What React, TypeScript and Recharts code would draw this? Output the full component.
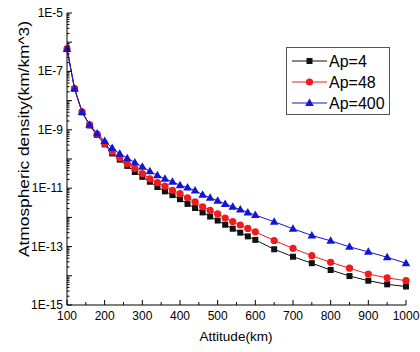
import React from "react";
import { LineChart, Line, XAxis, YAxis, Legend, Label } from "recharts";

const altitude = [
  100, 120, 140, 160, 180, 200, 220, 240, 260, 280, 300, 320, 340, 360, 380, 400, 420,
  440, 460, 480, 500, 520, 540, 560, 580, 600, 650, 700, 750, 800, 850, 900, 950, 1000,
];

const ap4 = [
  5.9e-7, 2.5e-8, 4.0e-9, 1.41e-9, 6.6e-10, 3.16e-10, 1.55e-10, 9.5e-11, 5.8e-11, 3.6e-11,
  2.45e-11, 1.66e-11, 1.1e-11, 7.8e-12, 5.8e-12, 4.2e-12, 2.9e-12, 2.1e-12, 1.48e-12,
  1.07e-12, 7.8e-13, 5.6e-13, 4.1e-13, 3.0e-13, 2.24e-13, 1.7e-13, 8.1e-14, 4.5e-14,
  2.7e-14, 1.58e-14, 9.8e-15, 6.8e-15, 5.1e-15, 4.3e-15,
];

const ap48 = [
  5.9e-7, 2.6e-8, 4.1e-9, 1.48e-9, 7.1e-10, 3.4e-10, 1.82e-10, 1.1e-10, 6.9e-11, 4.7e-11,
  3.16e-11, 2.1e-11, 1.55e-11, 1.17e-11, 8.5e-12, 6.5e-12, 4.7e-12, 3.4e-12, 2.3e-12,
  1.74e-12, 1.32e-12, 9.5e-13, 7.2e-13, 5.5e-13, 4.2e-13, 3.2e-13, 1.62e-13, 8.7e-14,
  4.9e-14, 2.9e-14, 1.82e-14, 1.15e-14, 8.5e-15, 6.8e-15,
];

const ap400 = [
  5.9e-7, 2.6e-8, 4.1e-9, 1.5e-9, 7.4e-10, 4.1e-10, 2.4e-10, 1.5e-10, 1.07e-10, 7.6e-11,
  5.4e-11, 3.8e-11, 2.75e-11, 2.1e-11, 1.66e-11, 1.26e-11, 1.05e-11, 8.3e-12, 6.0e-12,
  4.7e-12, 3.7e-12, 2.9e-12, 2.3e-12, 1.86e-12, 1.48e-12, 1.2e-12, 7.1e-13, 4.1e-13,
  2.4e-13, 1.58e-13, 9.8e-14, 6.6e-14, 4.3e-14, 2.7e-14,
];

const xTicks = [100, 150, 200, 250, 300, 350, 400, 450, 500, 550, 600, 650, 700, 750, 800, 850, 900, 950, 1000];
const yLabelTicks = [1e-5, 1e-7, 1e-9, 1e-11, 1e-13, 1e-15];
const yTickText = ["1E-5", "1E-7", "1E-9", "1E-11", "1E-13", "1E-15"];

const data = altitude.map((alt, i) => ({ alt, ap4: ap4[i], ap48: ap48[i], ap400: ap400[i] }));

// log minor ticks: 1..9 x 10^k
const yTicks: number[] = [];
for (let k = -15; k < -5; k++) {
  for (let m = 1; m <= 9; m++) yTicks.push(m * Math.pow(10, k));
}
yTicks.push(1e-5);

const FONT = "'Liberation Sans', Arial, sans-serif";
const BLACK = "#111111";
const RED = "#ee1c1c";
const BLUE = "#1414d6";

const isDecade = (v: number) => {
  const e = Math.round(Math.log10(v));
  return Math.abs(v - Math.pow(10, e)) / v < 1e-6;
};

const YTick = (side: "left" | "right") => (props: any) => {
  const { x, y, payload } = props;
  const v = payload.value;
  const len = isDecade(v) ? 5 : 2.5;
  const dir = side === "left" ? 1 : -1;
  const idx = yLabelTicks.findIndex((t) => Math.abs(t - v) / t < 1e-6);
  return (
    <g>
      <line x1={x} x2={x + dir * len} y1={y} y2={y} stroke="#000" strokeWidth={1} />
      {side === "left" && idx >= 0 && (
        <text x={x - 4} y={y} dy={4} textAnchor="end" fontSize={12} fontFamily={FONT} fill="#000">
          {yTickText[idx]}
        </text>
      )}
    </g>
  );
};

const XTick = (side: "bottom" | "top") => (props: any) => {
  const { x, y, payload } = props;
  const v = payload.value;
  const len = v % 100 === 0 ? 5 : 3;
  const dir = side === "bottom" ? -1 : 1;
  return (
    <g>
      <line x1={x} x2={x} y1={y} y2={y + dir * len} stroke="#000" strokeWidth={1} />
      {side === "bottom" && v % 100 === 0 && (
        <text x={x} y={y + 15} textAnchor="middle" fontSize={12} fontFamily={FONT} fill="#000">
          {v}
        </text>
      )}
    </g>
  );
};

const Square = (props: any) => {
  const { cx, cy, index } = props;
  return <rect key={`s${index}`} x={cx - 3} y={cy - 3} width={6} height={6} fill={BLACK} />;
};
const Circle = (props: any) => {
  const { cx, cy, index } = props;
  return <circle key={`c${index}`} cx={cx} cy={cy} r={3.6} fill={RED} />;
};
const Triangle = (props: any) => {
  const { cx, cy, index } = props;
  return (
    <path key={`t${index}`} d={`M${cx},${cy - 4.5} L${cx + 4.3},${cy + 3} L${cx - 4.3},${cy + 3} Z`} fill={BLUE} />
  );
};

const legendItems = [
  { name: "Ap=4", color: BLACK, shape: "square" },
  { name: "Ap=48", color: RED, shape: "circle" },
  { name: "Ap=400", color: BLUE, shape: "triangle" },
];

const LegendBox = () => (
  <svg width={104} height={68} style={{ display: "block" }}>
    <rect x={0.5} y={0.5} width={103} height={67} fill="#fff" stroke="#555" />
    {legendItems.map((it, i) => {
      const y = 14 + i * 21;
      return (
        <g key={it.name}>
          <line x1={6} x2={41} y1={y} y2={y} stroke={it.color} strokeWidth={1} />
          {it.shape === "square" && <rect x={20.5} y={y - 3} width={6} height={6} fill={it.color} />}
          {it.shape === "circle" && <circle cx={23.5} cy={y} r={3.6} fill={it.color} />}
          {it.shape === "triangle" && (
            <path d={`M23.5,${y - 4.5} L27.8,${y + 3} L19.2,${y + 3} Z`} fill={it.color} />
          )}
          <text x={43} y={y + 6} fontSize={16} fontFamily={FONT} fill="#000">
            {it.name}
          </text>
        </g>
      );
    })}
  </svg>
);

export default function App() {
  return (
    <div style={{ position: "absolute", left: 0, top: 0, width: 420, height: 352, background: "#fff", fontFamily: FONT }}>
      <LineChart width={420} height={352} data={data} margin={{ top: 13, right: 14, bottom: 0, left: 0 }}>
        <XAxis
          xAxisId="bottom"
          dataKey="alt"
          type="number"
          domain={[100, 1000]}
          ticks={xTicks}
          interval={0}
          height={47}
          tickSize={0}
          tickMargin={0}
          tickLine={false}
          stroke="#000"
          tick={XTick("bottom")}
        >
          <Label
            content={() => (
              <text x={236} y={341} textAnchor="middle" fontSize={13.5} fontFamily={FONT} fill="#000">
                Attitude(km)
              </text>
            )}
          />
        </XAxis>
        <XAxis
          xAxisId="top"
          orientation="top"
          dataKey="alt"
          type="number"
          domain={[100, 1000]}
          ticks={xTicks}
          interval={0}
          height={0}
          tickSize={0}
          tickMargin={0}
          tickLine={false}
          stroke="#000"
          tick={XTick("top")}
        />
        <YAxis
          yAxisId="left"
          type="number"
          scale="log"
          domain={[1e-15, 1e-5]}
          allowDataOverflow
          ticks={yTicks}
          interval={0}
          width={67}
          tickSize={0}
          tickMargin={0}
          tickLine={false}
          stroke="#000"
          tick={YTick("left")}
        >
          <Label
            content={() => (
              <text
                x={0}
                y={0}
                transform="translate(29,139) rotate(-90)"
                textAnchor="middle"
                fontSize={14}
                fontFamily={FONT}
                fill="#000"
                textLength={236}
                lengthAdjust="spacingAndGlyphs"
              >
                Atmospheric density(km/km^3)
              </text>
            )}
          />
        </YAxis>
        <YAxis
          yAxisId="right"
          orientation="right"
          type="number"
          scale="log"
          domain={[1e-15, 1e-5]}
          allowDataOverflow
          ticks={yTicks}
          interval={0}
          width={0}
          tickSize={0}
          tickMargin={0}
          tickLine={false}
          stroke="#000"
          tick={YTick("right")}
        />
        <Legend
          layout="vertical"
          align="center"
          verticalAlign="middle"
          wrapperStyle={{ position: "absolute", left: 286, top: 47, width: 104, height: 68 }}
          content={() => <LegendBox />}
        />
        <Line
          xAxisId="bottom"
          yAxisId="left"
          type="linear"
          dataKey="ap4"
          name="Ap=4"
          stroke={BLACK}
          strokeWidth={1}
          dot={Square}
          isAnimationActive={false}
        />
        <Line
          xAxisId="bottom"
          yAxisId="left"
          type="linear"
          dataKey="ap48"
          name="Ap=48"
          stroke={RED}
          strokeWidth={1}
          dot={Circle}
          isAnimationActive={false}
        />
        <Line
          xAxisId="bottom"
          yAxisId="left"
          type="linear"
          dataKey="ap400"
          name="Ap=400"
          stroke={BLUE}
          strokeWidth={1}
          dot={Triangle}
          isAnimationActive={false}
        />
      </LineChart>
    </div>
  );
}
